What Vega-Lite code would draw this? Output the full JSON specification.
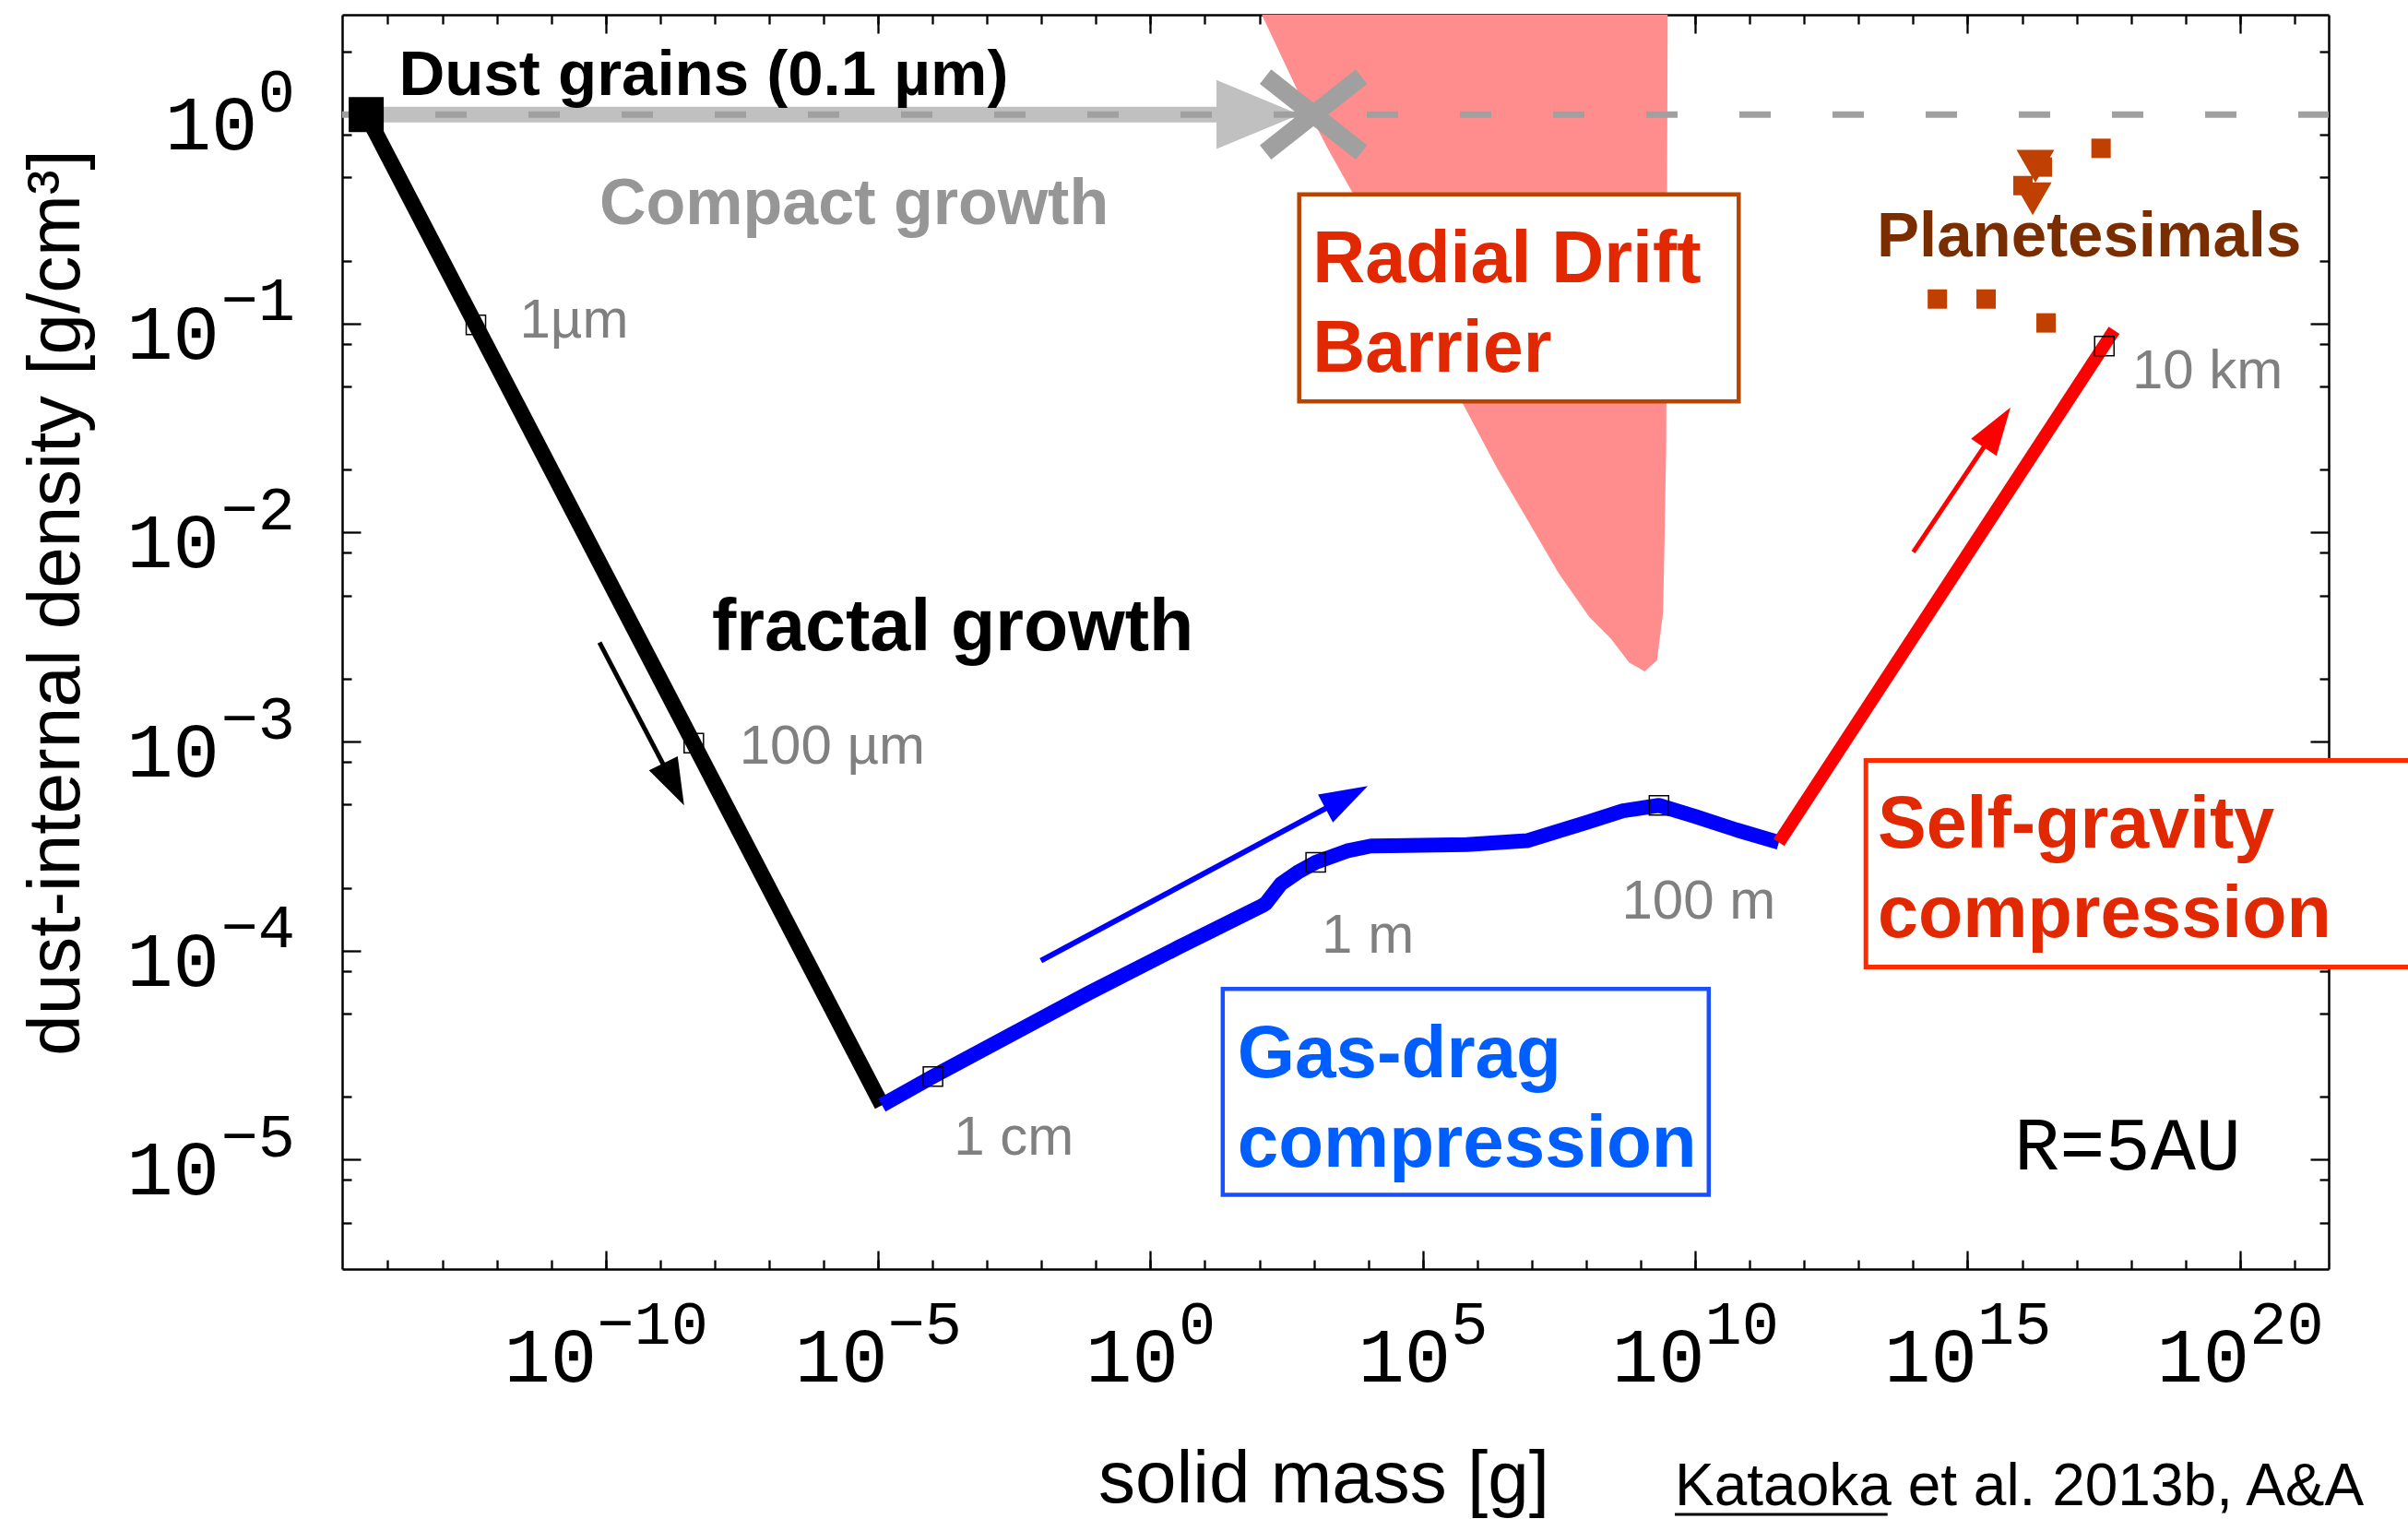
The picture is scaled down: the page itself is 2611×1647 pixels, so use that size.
{
  "$schema": "https://vega.github.io/schema/vega-lite/v6.json",
  "width": 2154,
  "height": 1360,
  "autosize": {"type": "none"},
  "padding": {"left": 371, "top": 16, "right": 86, "bottom": 271},
  "background": "white",
  "config": {
    "view": {"stroke": null},
    "axis": {"grid": false, "labelFlush": false, "labelOverlap": false, "labelBound": false, "zindex": 1}
  },
  "resolve": {"axis": {"x": "independent", "y": "independent"}},
  "encoding": {
    "x": {"field": "m", "type": "quantitative", "scale": {"type": "log", "domain": [1.455e-15, 4.256e21], "nice": false}, "axis": null},
    "y": {"field": "r", "type": "quantitative", "scale": {"type": "log", "domain": [3e-6, 3], "nice": false}, "axis": null}
  },
  "layer": [
    {
      "data": {"values": [
        {"m": 111.4, "r": 2.99}, {"m": 498, "r": 1.306}, {"m": 1824, "r": 0.682}, {"m": 5164, "r": 0.4217},
        {"m": 54100, "r": 0.1312}, {"m": 554600, "r": 0.04093}, {"m": 2312000, "r": 0.02032}, {"m": 8492000, "r": 0.0114},
        {"m": 3.112e7, "r": 0.006397}, {"m": 1.14e8, "r": 0.003945}, {"m": 2.838e8, "r": 0.003105}, {"m": 6.18e8, "r": 0.002388},
        {"m": 1.183e9, "r": 0.002168}, {"m": 1.991e9, "r": 0.002449}, {"m": 2.576e9, "r": 0.00415}, {"m": 2.754e9, "r": 0.009863},
        {"m": 2.938e9, "r": 0.02582}, {"m": 3.126e9, "r": 2.99}
      ]},
      "mark": {"type": "area", "color": "#ff8d8d", "orient": "vertical"},
      "encoding": {
        "x": {"field": "m", "type": "quantitative", "scale": {"type": "log", "domain": [1.455e-15, 4.256e21], "nice": false},
          "axis": {"orient": "bottom", "values": [1e-14,1e-13,1e-12,1e-11,1e-10,1e-9,1e-8,1e-7,1e-6,1e-5,1e-4,0.001,0.01,0.1,1,10,100,1000,10000,100000,1e6,1e7,1e8,1e9,1e10,1e11,1e12,1e13,1e14,1e15,1e16,1e17,1e18,1e19,1e20,1e21],
            "tickSize": -10, "tickWidth": 2.3, "tickColor": "black", "labels": false, "domain": false, "title": null}},
        "y": {"field": "r", "type": "quantitative", "scale": {"type": "log", "domain": [3e-6, 3], "nice": false},
          "axis": {"orient": "left", "values": [5e-6,8e-6,2e-5,5e-5,8e-5,0.0002,0.0005,0.0008,0.002,0.005,0.008,0.02,0.05,0.08,0.2,0.5,0.8,2],
            "tickSize": -10, "tickWidth": 2.3, "tickColor": "black", "labels": false, "domain": false, "title": null}},
        "y2": {"datum": 3}
      }
    },
    {
      "data": {"values": [{"m": 4.02e-15, "r": 1}, {"m": 94.4, "r": 1}]},
      "mark": {"type": "line", "color": "#c0c0c0", "strokeWidth": 17},
      "encoding": {
        "x": {"field": "m", "type": "quantitative", "scale": {"type": "log", "domain": [1.455e-15, 4.256e21], "nice": false},
          "axis": {"orient": "bottom", "values": [1e-10,1e-5,1,100000,1e10,1e15,1e20], "tickSize": -20, "tickWidth": 2.3, "tickColor": "black", "labels": false, "domain": true, "domainColor": "black", "domainWidth": 2.5, "title": null}},
        "y": {"field": "r", "type": "quantitative", "scale": {"type": "log", "domain": [3e-6, 3], "nice": false},
          "axis": {"orient": "left", "values": [1e-5,0.0001,0.001,0.01,0.1,1], "tickSize": -20, "tickWidth": 2.3, "tickColor": "black", "labels": false, "domain": true, "domainColor": "black", "domainWidth": 2.5, "title": null}}
      }
    },
    {
      "data": {"values": [{"m": 94.4, "r": 1}]},
      "mark": {"type": "point", "shape": "M -1 -0.83 L 1 0 L -1 0.83 Z", "size": 8100, "filled": true, "color": "#c0c0c0", "opacity": 1, "strokeWidth": 0},
      "encoding": {
        "x": {"field": "m", "type": "quantitative", "scale": {"type": "log", "domain": [1.455e-15, 4.256e21], "nice": false},
          "axis": {"orient": "top", "values": [1e-14,1e-13,1e-12,1e-11,1e-10,1e-9,1e-8,1e-7,1e-6,1e-5,1e-4,0.001,0.01,0.1,1,10,100,1000,10000,100000,1e6,1e7,1e8,1e9,1e10,1e11,1e12,1e13,1e14,1e15,1e16,1e17,1e18,1e19,1e20,1e21],
            "tickSize": -10, "tickWidth": 2.3, "tickColor": "black", "labels": false, "domain": false, "title": null}},
        "y": {"field": "r", "type": "quantitative", "scale": {"type": "log", "domain": [3e-6, 3], "nice": false},
          "axis": {"orient": "right", "values": [5e-6,8e-6,2e-5,5e-5,8e-5,0.0002,0.0005,0.0008,0.002,0.005,0.008,0.02,0.05,0.08,0.2,0.5,0.8,2],
            "tickSize": -10, "tickWidth": 2.3, "tickColor": "black", "labels": false, "domain": false, "title": null}}
      }
    },
    {
      "data": {"values": [{"m": 1.455e-15, "r": 1}, {"m": 4.256e21, "r": 1}]},
      "mark": {"type": "line", "color": "#a0a0a0", "strokeWidth": 7, "strokeDash": [34, 67]},
      "encoding": {
        "x": {"field": "m", "type": "quantitative", "scale": {"type": "log", "domain": [1.455e-15, 4.256e21], "nice": false},
          "axis": {"orient": "top", "values": [1e-10,1e-5,1,100000,1e10,1e15,1e20], "tickSize": -20, "tickWidth": 2.3, "tickColor": "black", "labels": false, "domain": true, "domainColor": "black", "domainWidth": 2.5, "title": null}},
        "y": {"field": "r", "type": "quantitative", "scale": {"type": "log", "domain": [3e-6, 3], "nice": false},
          "axis": {"orient": "right", "values": [1e-5,0.0001,0.001,0.01,0.1,1], "tickSize": -20, "tickWidth": 2.3, "tickColor": "black", "labels": false, "domain": true, "domainColor": "black", "domainWidth": 2.5, "title": null}}
      }
    },
    {
      "data": {"values": [{"m": 984, "r": 1}]},
      "mark": {"type": "point", "shape": "M -1 -0.79 L 1 0.79 M -1 0.79 L 1 -0.79", "size": 10816, "filled": false, "stroke": "#a0a0a0", "strokeWidth": 20, "opacity": 1},
      "encoding": {
        "x": {"field": "m", "type": "quantitative", "scale": {"type": "log", "domain": [1.455e-15, 4.256e21], "nice": false},
          "axis": {"orient": "bottom", "values": [1, 100000], "ticks": false, "domain": false, "labelExpr": "'10'", "labelFont": "Liberation Mono", "labelFontSize": 84, "labelColor": "black", "labelAlign": "right", "labelBaseline": "alphabetic", "labelPadding": 121, "labelOffset": 30, "title": null}},
        "y": {"field": "r", "type": "quantitative", "scale": {"type": "log", "domain": [3e-6, 3], "nice": false},
          "axis": {"orient": "left", "values": [1], "ticks": false, "domain": false, "labelExpr": "'10'", "labelFont": "Liberation Mono", "labelFontSize": 84, "labelColor": "black", "labelAlign": "right", "labelBaseline": "alphabetic", "labelPadding": 92, "labelOffset": 37.5, "title": null}}
      }
    },
    {
      "data": {"values": [{"m": 4.02e-15, "r": 1}, {"m": 1.18e-5, "r": 1.824e-5}]},
      "mark": {"type": "line", "color": "black", "strokeWidth": 17},
      "encoding": {
        "x": {"field": "m", "type": "quantitative", "scale": {"type": "log", "domain": [1.455e-15, 4.256e21], "nice": false},
          "axis": {"orient": "bottom", "values": [1e-5, 1e10, 1e15, 1e20], "ticks": false, "domain": false, "labelExpr": "'10'", "labelFont": "Liberation Mono", "labelFontSize": 84, "labelColor": "black", "labelAlign": "right", "labelBaseline": "alphabetic", "labelPadding": 121, "labelOffset": 10, "title": null}},
        "y": {"field": "r", "type": "quantitative", "scale": {"type": "log", "domain": [3e-6, 3], "nice": false},
          "axis": {"orient": "left", "values": [0.1, 0.01, 0.001, 0.0001, 1e-5], "ticks": false, "domain": false, "labelExpr": "'10'", "labelFont": "Liberation Mono", "labelFontSize": 84, "labelColor": "black", "labelAlign": "right", "labelBaseline": "alphabetic", "labelPadding": 133.5, "labelOffset": 37.5, "title": null}}
      }
    },
    {
      "data": {"values": [
        {"m": 1.18e-5, "r": 1.824e-5}, {"m": 1.019e-4, "r": 2.5e-5}, {"m": 0.0743, "r": 6.28e-5}, {"m": 3.33, "r": 1.04e-4},
        {"m": 116, "r": 1.648e-4}, {"m": 132, "r": 1.687e-4}, {"m": 249, "r": 2.089e-4}, {"m": 532, "r": 2.393e-4},
        {"m": 1081, "r": 2.649e-4}, {"m": 4055, "r": 2.999e-4}, {"m": 11170, "r": 3.17e-4}, {"m": 645700, "r": 3.221e-4},
        {"m": 8166000, "r": 3.357e-4}, {"m": 2.897e7, "r": 3.715e-4}, {"m": 1.03e8, "r": 4.111e-4}, {"m": 4.721e8, "r": 4.667e-4},
        {"m": 2.163e9, "r": 4.955e-4}, {"m": 9.886e9, "r": 4.395e-4}, {"m": 5.848e10, "r": 3.776e-4}, {"m": 3.443e11, "r": 3.296e-4}
      ]},
      "mark": {"type": "line", "color": "#0000ff", "strokeWidth": 16, "strokeJoin": "round"},
      "encoding": {
        "x": {"field": "m", "type": "quantitative", "scale": {"type": "log", "domain": [1.455e-15, 4.256e21], "nice": false},
          "axis": {"orient": "bottom", "values": [1e-10], "ticks": false, "domain": false, "labelExpr": "'10'", "labelFont": "Liberation Mono", "labelFontSize": 84, "labelColor": "black", "labelAlign": "right", "labelBaseline": "alphabetic", "labelPadding": 121, "labelOffset": -10, "title": null}},
        "y": {"field": "r", "type": "quantitative", "scale": {"type": "log", "domain": [3e-6, 3], "nice": false},
          "axis": {"orient": "left", "values": [1, 0.1, 0.01, 0.001, 0.0001, 1e-5], "ticks": false, "domain": false,
            "labelExpr": "round(log(datum.value)/LN10) < 0 ? '−' + (-round(log(datum.value)/LN10)) : '' + round(log(datum.value)/LN10)",
            "labelFont": "Liberation Mono", "labelFontSize": 67, "labelColor": "black", "labelAlign": "right", "labelBaseline": "alphabetic", "labelPadding": 51.5, "labelOffset": -4,
            "title": "dust-internal density [g/cm³]", "titleFont": "Liberation Sans", "titleFontSize": 80, "titleFontWeight": "normal", "titleColor": "black",
            "titleX": -286, "titleY": 637, "titleAngle": -90, "titleBaseline": "alphabetic", "titleAlign": "center"}}
      }
    },
    {
      "data": {"values": [{"m": 3.443e11, "r": 3.296e-4}, {"m": 4.9e17, "r": 0.0929}]},
      "mark": {"type": "line", "color": "#ff0000", "strokeWidth": 14},
      "encoding": {
        "x": {"field": "m", "type": "quantitative", "scale": {"type": "log", "domain": [1.455e-15, 4.256e21], "nice": false},
          "axis": {"orient": "bottom", "values": [1, 100000], "ticks": false, "domain": false,
            "labelExpr": "round(log(datum.value)/LN10) < 0 ? '−' + (-round(log(datum.value)/LN10)) : '' + round(log(datum.value)/LN10)",
            "labelFont": "Liberation Mono", "labelFontSize": 67, "labelColor": "black", "labelAlign": "left", "labelBaseline": "alphabetic", "labelPadding": 80, "labelOffset": 30, "title": null}}
      }
    },
    {
      "data": {"values": [{"m": 7.7e-11, "r": 0.002979}, {"m": 1.775e-9, "r": 0.000625}]},
      "mark": {"type": "line", "color": "black", "strokeWidth": 5},
      "encoding": {
        "x": {"field": "m", "type": "quantitative", "scale": {"type": "log", "domain": [1.455e-15, 4.256e21], "nice": false},
          "axis": {"orient": "bottom", "values": [1e-5, 1e10, 1e15, 1e20], "ticks": false, "domain": false,
            "labelExpr": "round(log(datum.value)/LN10) < 0 ? '−' + (-round(log(datum.value)/LN10)) : '' + round(log(datum.value)/LN10)",
            "labelFont": "Liberation Mono", "labelFontSize": 67, "labelColor": "black", "labelAlign": "left", "labelBaseline": "alphabetic", "labelPadding": 80, "labelOffset": 10, "title": null}}
      }
    },
    {
      "data": {"values": [{"m": 0.00978, "r": 8.96e-5}, {"m": 3990, "r": 5.418e-4}]},
      "mark": {"type": "line", "color": "#0000ff", "strokeWidth": 6},
      "encoding": {
        "x": {"field": "m", "type": "quantitative", "scale": {"type": "log", "domain": [1.455e-15, 4.256e21], "nice": false},
          "axis": {"orient": "bottom", "values": [1e-10], "ticks": false, "domain": false,
            "labelExpr": "round(log(datum.value)/LN10) < 0 ? '−' + (-round(log(datum.value)/LN10)) : '' + round(log(datum.value)/LN10)",
            "labelFont": "Liberation Mono", "labelFontSize": 67, "labelColor": "black", "labelAlign": "left", "labelBaseline": "alphabetic", "labelPadding": 80, "labelOffset": -10,
            "title": "solid mass [g]", "titleFont": "Liberation Sans", "titleFontSize": 80, "titleFontWeight": "normal", "titleColor": "black",
            "titleX": 1064, "titleY": 252, "titleBaseline": "alphabetic", "titleAlign": "center"}}
      }
    },
    {
      "data": {"values": [{"m": 1.009e14, "r": 0.00807}, {"m": 3.49e15, "r": 0.03187}]},
      "mark": {"type": "line", "color": "#ff0000", "strokeWidth": 5}
    },
    {
      "data": {"values": [{"m": 1.775e-9, "r": 0.000625}]},
      "mark": {"type": "point", "shape": "M -1 -0.68 L 1 0 L -1 0.68 Z", "size": 2601, "angle": 63.8, "filled": true, "color": "black", "opacity": 1, "strokeWidth": 0}
    },
    {
      "data": {"values": [{"m": 3990, "r": 5.418e-4}]},
      "mark": {"type": "point", "shape": "M -1 -0.66 L 1 0 L -1 0.66 Z", "size": 2704, "angle": -28.1, "filled": true, "color": "#0000ff", "opacity": 1, "strokeWidth": 0}
    },
    {
      "data": {"values": [{"m": 3.49e15, "r": 0.03187}]},
      "mark": {"type": "point", "shape": "M -1 -0.64 L 1 0 L -1 0.64 Z", "size": 2704, "angle": -56.1, "filled": true, "color": "#ff0000", "opacity": 1, "strokeWidth": 0}
    },
    {
      "data": {"values": [{"m": 4.02e-15, "r": 1}]},
      "mark": {"type": "point", "shape": "square", "size": 1444, "filled": true, "color": "black", "opacity": 1, "strokeWidth": 0}
    },
    {
      "data": {"values": [
        {"m": 4.15e-13, "r": 0.0986}, {"m": 4.15e-9, "r": 9.84e-4}, {"m": 1.019e-4, "r": 2.5e-5},
        {"m": 1081, "r": 2.649e-4}, {"m": 2.163e9, "r": 4.955e-4}, {"m": 3.24e17, "r": 0.078}
      ]},
      "mark": {"type": "point", "shape": "square", "size": 441, "filled": false, "stroke": "black", "strokeWidth": 1.5, "opacity": 1}
    },
    {
      "data": {"values": [
        {"m": 2.82e17, "r": 0.689}, {"m": 2.79e14, "r": 0.131}, {"m": 2.19e15, "r": 0.131},
        {"m": 2.76e16, "r": 0.1007}, {"m": 2.36e16, "r": 0.5605}, {"m": 1.04e16, "r": 0.457}
      ]},
      "mark": {"type": "point", "shape": "square", "size": 441, "filled": true, "color": "#bf4000", "opacity": 1, "strokeWidth": 0}
    },
    {
      "data": {"values": [{"m": 1.76e16, "r": 0.566}, {"m": 1.57e16, "r": 0.395}]},
      "mark": {"type": "point", "shape": "triangle-down", "size": 1681, "filled": true, "color": "#bf4000", "opacity": 1, "strokeWidth": 0}
    },
    {
      "data": {"values": [{"m": 538, "m2": 6.3e10, "r": 0.4146, "r2": 0.0424}]},
      "mark": {"type": "rect", "fill": "white", "stroke": "#b84400", "strokeWidth": 4.5, "zindex": 2},
      "encoding": {"x2": {"field": "m2"}, "y2": {"field": "r2"}}
    },
    {
      "data": {"values": [{"m": 21.25, "m2": 1.774e10, "r": 6.56e-5, "r2": 6.8e-6}]},
      "mark": {"type": "rect", "fill": "white", "stroke": "#1a4fff", "strokeWidth": 4.5, "zindex": 2},
      "encoding": {"x2": {"field": "m2"}, "y2": {"field": "r2"}}
    },
    {
      "data": {"values": [{"m": 1.361e13, "m2": 3.7e23, "r": 8.14e-4, "r2": 8.36e-5}]},
      "mark": {"type": "rect", "fill": "white", "stroke": "#ff2a00", "strokeWidth": 5, "zindex": 2},
      "encoding": {"x2": {"field": "m2"}, "y2": {"field": "r2"}}
    },
    {
      "data": {"values": [{"m": 1.6e-14, "r": 1.234, "label": "Dust grains (0.1 µm)"}]},
      "mark": {"type": "text", "font": "Liberation Sans", "fontWeight": "bold", "fontSize": 69, "color": "black", "align": "left", "baseline": "alphabetic"},
      "encoding": {"text": {"field": "label"}}
    },
    {
      "data": {"values": [{"m": 8.95e-9, "r": 0.002734, "label": "fractal growth"}]},
      "mark": {"type": "text", "font": "Liberation Sans", "fontWeight": "bold", "fontSize": 79, "color": "black", "align": "left", "baseline": "alphabetic"},
      "encoding": {"text": {"field": "label"}}
    },
    {
      "data": {"values": [{"m": 7.69e-11, "r": 0.2985, "label": "Compact growth"}]},
      "mark": {"type": "text", "font": "Liberation Sans", "fontWeight": "bold", "fontSize": 70, "color": "#969696", "align": "left", "baseline": "alphabetic"},
      "encoding": {"text": {"field": "label"}}
    },
    {
      "data": {"values": [
        {"m": 950, "r": 0.1573, "label": "Radial Drift"}, {"m": 950, "r": 0.05881, "label": "Barrier"},
        {"m": 2.24e13, "r": 3.119e-4, "label": "Self-gravity"}, {"m": 2.24e13, "r": 1.163e-4, "label": "compression"}
      ]},
      "mark": {"type": "text", "font": "Liberation Sans", "fontWeight": "bold", "fontSize": 79, "color": "#e12800", "align": "left", "baseline": "alphabetic", "zindex": 3},
      "encoding": {"text": {"field": "label"}}
    },
    {
      "data": {"values": [{"m": 39.5, "r": 2.477e-5, "label": "Gas-drag"}, {"m": 39.5, "r": 9.24e-6, "label": "compression"}]},
      "mark": {"type": "text", "font": "Liberation Sans", "fontWeight": "bold", "fontSize": 80, "color": "#005eff", "align": "left", "baseline": "alphabetic", "zindex": 3},
      "encoding": {"text": {"field": "label"}}
    },
    {
      "data": {"values": [{"m": 2.16e13, "r": 0.2093, "label": "Planetesimals"}]},
      "mark": {"type": "text", "font": "Liberation Sans", "fontWeight": "bold", "fontSize": 69, "color": "#7a2e00", "align": "left", "baseline": "alphabetic"},
      "encoding": {"text": {"field": "label"}}
    },
    {
      "data": {"values": [
        {"m": 2.64e-12, "r": 0.0853, "label": "1µm"}, {"m": 2.85e-8, "r": 7.81e-4, "label": "100 µm"},
        {"m": 2.46e-4, "r": 1.056e-5, "label": "1 cm"}, {"m": 1393, "r": 9.83e-5, "label": "1 m"},
        {"m": 4.48e8, "r": 1.427e-4, "label": "100 m"}, {"m": 1.05e18, "r": 0.04909, "label": "10 km"}
      ]},
      "mark": {"type": "text", "font": "Liberation Sans", "fontSize": 60, "color": "#808080", "align": "left", "baseline": "alphabetic"},
      "encoding": {"text": {"field": "label"}}
    },
    {
      "data": {"values": [{"m": 7.19e15, "r": 9.03e-6, "label": "R=5AU"}]},
      "mark": {"type": "text", "font": "Liberation Mono", "fontSize": 82, "color": "black", "align": "left", "baseline": "alphabetic"},
      "encoding": {"text": {"field": "label"}}
    },
    {
      "data": {"values": [{"m": 4.23e9, "r": 2.22e-7, "label": "Kataoka et al. 2013b, A&A"}]},
      "mark": {"type": "text", "font": "Liberation Sans", "fontSize": 64, "color": "black", "align": "left", "baseline": "alphabetic"},
      "encoding": {"text": {"field": "label"}}
    },
    {
      "data": {"values": [{"m": 4.23e9, "m2": 3.4e13, "r": 2.01e-7}]},
      "mark": {"type": "rule", "color": "black", "strokeWidth": 3},
      "encoding": {"x2": {"field": "m2"}}
    }
  ]
}
